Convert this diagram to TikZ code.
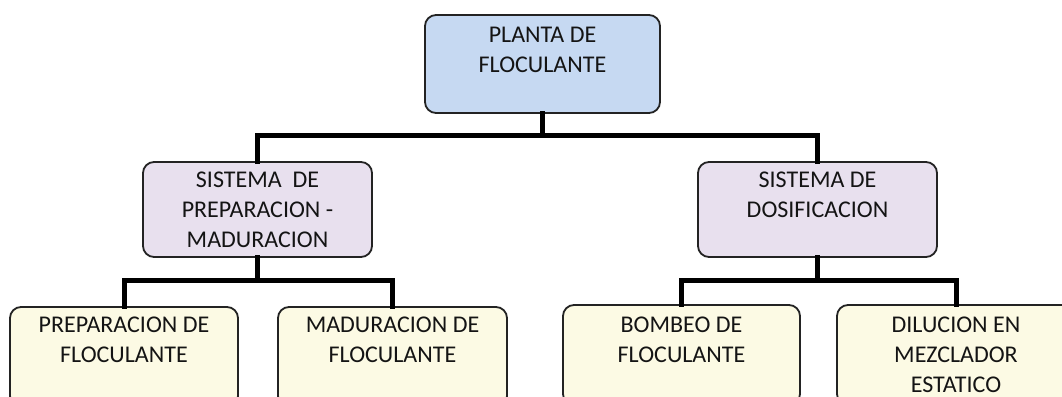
\documentclass[tikz,border=0pt]{standalone}
\usepackage{fontspec}
\setmainfont{Carlito}
\definecolor{topfill}{RGB}{198,217,242}
\definecolor{midfill}{RGB}{232,224,238}
\definecolor{botfill}{RGB}{252,250,228}
\definecolor{edge}{RGB}{35,35,35}
\definecolor{ink}{RGB}{20,20,20}
\tikzset{
  box/.style={draw=edge, line width=1.8pt, rounded corners=11pt, inner sep=0pt},
  topbox/.style={box, fill=topfill},
  midbox/.style={box, fill=midfill},
  botbox/.style={box, fill=botfill},
  txt/.style={anchor=north, inner sep=0pt, align=center, text=ink,
    font=\fontsize{24}{30}\selectfont},
  conn/.style={line width=5pt, draw=black, line join=miter, line cap=rect}
}
\begin{document}
\begin{tikzpicture}[x=1pt,y=-1pt]
\useasboundingbox (0,0) rectangle (1062,396);
\clip (0,0) rectangle (1062,396);
% boxes
\node[topbox, minimum width=235pt, minimum height=98pt] (top) at (542.5,64) {};
\node[midbox, minimum width=229pt, minimum height=95pt] (midL) at (257.5,209.5) {};
\node[midbox, minimum width=239pt, minimum height=95pt] (midR) at (817.5,209.5) {};
\node[botbox, minimum width=228pt, minimum height=100pt] (b1) at (124,357) {};
\node[botbox, minimum width=229pt, minimum height=100pt] (b2) at (392.5,357) {};
\node[botbox, minimum width=237pt, minimum height=100pt] (b3) at (681.5,355) {};
\node[botbox, minimum width=238pt, minimum height=100pt] (b4) at (956,355) {};
% texts
\node[txt] (t0) at ([yshift=-12.5pt]top.north) {PLANTA DE\\FLOCULANTE};
\node[txt] (t1) at ([yshift=-10.5pt]midL.north) {SISTEMA\ \ DE\\PREPARACION -\\MADURACION};
\node[txt] (t2) at ([yshift=-10.5pt]midR.north) {SISTEMA DE\\DOSIFICACION};
\node[txt] (t3) at ([yshift=-10.5pt]b1.north) {PREPARACION DE\\FLOCULANTE};
\node[txt] (t4) at ([yshift=-10.5pt]b2.north) {MADURACION DE\\FLOCULANTE};
\node[txt] (t5) at ([yshift=-12.5pt]b3.north) {BOMBEO DE\\FLOCULANTE};
\node[txt] (t6) at ([yshift=-12.5pt]b4.north) {DILUCION EN\\MEZCLADOR\\ESTATICO};
% connectors
\draw[conn] (top.south) -- ++(0,22) coordinate (j0);
\draw[conn] (midL.north) |- (j0) -| (midR.north);
\draw[conn] (midL.south) -- ++(0,23) coordinate (j1);
\draw[conn] (b1.north) |- (j1) -| (b2.north);
\draw[conn] (midR.south) -- ++(0,23) coordinate (j2);
\draw[conn] (b3.north) |- (j2) -| (b4.north);
\end{tikzpicture}
\end{document}
